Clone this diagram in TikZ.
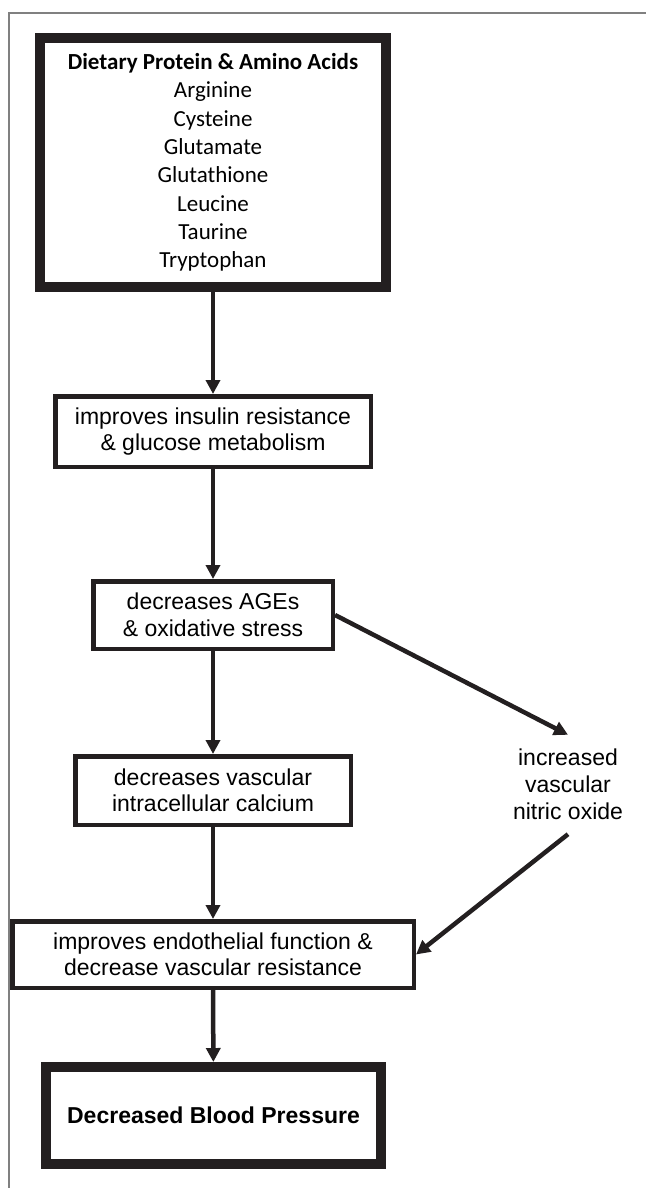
\documentclass[tikz,border=0pt]{standalone}
\usepackage{fontspec}
\setmainfont{Liberation Sans}
\newfontfamily\calibri{Carlito}
\usepackage{tikz}
\usetikzlibrary{arrows.meta,positioning,calc,shapes}
\usepackage{xcolor}
\definecolor{ink}{HTML}{231F20}
\definecolor{framegray}{HTML}{808080}

\begin{document}
\begin{tikzpicture}[x=1pt,y=-1pt,
    >={Triangle[length=14pt,width=14pt]},
    plainbox/.style={draw=ink,line width=4.5pt,align=center,inner sep=0pt,font=\fontsize{23}{26.5}\selectfont},
    heavybox/.style={draw=ink,line width=10pt,align=center,inner sep=0pt},
    flow/.style={->,draw=ink,line width=4.5pt}]
    \useasboundingbox (0,0) rectangle (646,1188);
    \draw [framegray,line width=1.2pt] (9,1188) -- (9,13) -- (646,13);
    \node [heavybox,minimum width=346pt,minimum height=249pt,font=\calibri\fontsize{23}{28.3}\selectfont] (1) at (213,162.5) [] {\textbf{Dietary Protein \& Amino Acids}\\Arginine\\Cysteine\\Glutamate\\Glutathione\\Leucine\\Taurine\\Tryptophan};
    \node [plainbox,minimum width=315.5pt,minimum height=70.5pt] (2) at (213,431.5) [] {improves insulin resistance\\\& glucose metabolism};
    \node [plainbox,minimum width=239.5pt,minimum height=67.5pt] (3) at (213,615) [] {decreases AGEs\\\& oxidative stress};
    \node [plainbox,minimum width=275.5pt,minimum height=68.5pt] (4) at (213,790.5) [] {decreases vascular\\intracellular calcium};
    \node [plainbox,minimum width=401.5pt,minimum height=66.5pt] (5) at (213,954.5) [] {improves endothelial function \&\\decrease vascular resistance};
    \node [heavybox,minimum width=335pt,minimum height=97pt,font=\fontsize{23}{26.5}\selectfont] (6) at (213.5,1115.5) [] {\textbf{Decreased Blood Pressure}};
    \node [align=center,inner sep=0pt,minimum height=99pt,font=\fontsize{23}{27}\selectfont] (7) at (568,784.5) [] {increased\\vascular\\nitric oxide};
    \draw [flow] (1) to (2);
    \draw [flow] (2) to (3);
    \draw [flow] (3) to (4);
    \draw [flow] (4) to (5);
    \draw [flow] (5) to (6);
    \draw [flow] (3.east) to (7.north);
    \draw [flow] (7.south) to (5.east);
\end{tikzpicture}
\end{document}
